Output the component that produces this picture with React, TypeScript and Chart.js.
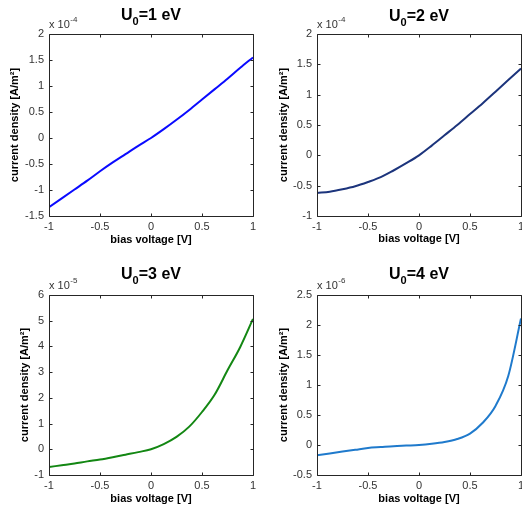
import React, { useEffect, useRef } from "react";
import { Chart, registerables } from "chart.js";

Chart.register(...registerables);

// bias voltage [V]
const voltage = [-1, -0.875, -0.75, -0.625, -0.5, -0.375, -0.25, -0.125, 0, 0.125, 0.25, 0.375, 0.5, 0.625, 0.75, 0.875, 1];
// current density, U0 = 1 eV  (×1e-4 A/m²)
const currentU1 = [-1.33, -1.16, -0.99, -0.82, -0.64, -0.47, -0.31, -0.15, 0.0, 0.17, 0.35, 0.54, 0.74, 0.94, 1.14, 1.35, 1.55];
// current density, U0 = 2 eV  (×1e-4 A/m²)
const currentU2 = [-0.62, -0.6, -0.56, -0.51, -0.44, -0.36, -0.25, -0.13, 0.0, 0.16, 0.33, 0.5, 0.68, 0.86, 1.05, 1.24, 1.43];
// current density, U0 = 3 eV  (×1e-5 A/m²)
const currentU3 = [-0.69, -0.62, -0.55, -0.47, -0.4, -0.31, -0.21, -0.11, 0.0, 0.2, 0.48, 0.88, 1.45, 2.13, 3.07, 3.98, 5.07];
// current density, U0 = 4 eV  (×1e-6 A/m²)
const currentU4 = [-0.17, -0.14, -0.11, -0.08, -0.05, -0.035, -0.02, -0.01, 0.0, 0.02, 0.05, 0.1, 0.19, 0.37, 0.65, 1.15, 2.11];

const xTicks = [-1, -0.5, 0, 0.5, 1];
const yTicksU1 = [-1.5, -1, -0.5, 0, 0.5, 1, 1.5, 2];
const yTicksU2 = [-1, -0.5, 0, 0.5, 1, 1.5, 2];
const yTicksU3 = [-1, 0, 1, 2, 3, 4, 5, 6];
const yTicksU4 = [-0.5, 0, 0.5, 1, 1.5, 2, 2.5];

const barrierHeights = ["1", "2", "3", "4"];
const exponents = ["-4", "-4", "-5", "-6"];
const xTitle = "bias voltage [V]";
const yTitle = "current density [A/m²]";

const FONT = "'Liberation Sans', Arial, Helvetica, sans-serif";
const AXIS_COLOR = "#262626";
const TEXT_COLOR = "#333333";

type Panel = {
  series: number[];
  yTicks: number[];
  color: string;
  u0: string;
  exp: string;
  pos: { left: number; top: number };
  area: { l: number; r: number; t: number; b: number };
  yTitlePad: number;
  xTitlePad: number;
  titleBase: number;
};

const W = 261;
const H = 255;

const panels: Panel[] = [
  {
    series: currentU1, yTicks: yTicksU1, color: "#0a0aff", u0: barrierHeights[0], exp: exponents[0],
    pos: { left: 0, top: 0 }, area: { l: 49, r: 253, t: 34, b: 216 }, yTitlePad: 8, xTitlePad: 8, titleBase: 20,
  },
  {
    series: currentU2, yTicks: yTicksU2, color: "#1c347c", u0: barrierHeights[1], exp: exponents[1],
    pos: { left: 261, top: 0 }, area: { l: 56, r: 260, t: 34, b: 216 }, yTitlePad: 16, xTitlePad: 9, titleBase: 21,
  },
  {
    series: currentU3, yTicks: yTicksU3, color: "#138713", u0: barrierHeights[2], exp: exponents[2],
    pos: { left: 0, top: 255 }, area: { l: 49, r: 253, t: 40, b: 220 }, yTitlePad: 18, xTitlePad: 4, titleBase: 24,
  },
  {
    series: currentU4, yTicks: yTicksU4, color: "#1f7acc", u0: barrierHeights[3], exp: exponents[3],
    pos: { left: 261, top: 255 }, area: { l: 56, r: 260, t: 40, b: 220 }, yTitlePad: 16, xTitlePad: 4, titleBase: 24,
  },
];

function fmt(v: number): string {
  return String(Math.round(v * 100) / 100);
}

function SubPlot({ p }: { p: Panel }) {
  const ref = useRef<HTMLCanvasElement | null>(null);

  useEffect(() => {
    const canvas = ref.current;
    if (!canvas) return;

    const decor = {
      id: "decor",
      afterDraw(chart: any) {
        const { ctx, chartArea: a } = chart;
        const l = Math.round(a.left) + 0.5;
        const t = Math.round(a.top) + 0.5;
        const r = Math.round(a.right) + 0.5;
        const b = Math.round(a.bottom) + 0.5;
        ctx.save();
        // frame
        ctx.strokeStyle = AXIS_COLOR;
        ctx.lineWidth = 1;
        ctx.beginPath();
        ctx.rect(l, t, r - l, b - t);
        ctx.stroke();
        // inward ticks
        const tl = 3;
        ctx.beginPath();
        chart.scales.x.ticks.forEach((tk: any) => {
          const x = Math.round(chart.scales.x.getPixelForValue(tk.value)) + 0.5;
          ctx.moveTo(x, b);
          ctx.lineTo(x, b - tl);
          ctx.moveTo(x, t);
          ctx.lineTo(x, t + tl);
        });
        chart.scales.y.ticks.forEach((tk: any) => {
          const y = Math.round(chart.scales.y.getPixelForValue(tk.value)) + 0.5;
          ctx.moveTo(l, y);
          ctx.lineTo(l + tl, y);
          ctx.moveTo(r, y);
          ctx.lineTo(r - tl, y);
        });
        ctx.stroke();

        // exponent label "x 10^exp"
        ctx.fillStyle = TEXT_COLOR;
        ctx.textBaseline = "alphabetic";
        ctx.textAlign = "left";
        ctx.font = `11px ${FONT}`;
        const ex = Math.round(a.left);
        const ey = Math.round(a.top) - 6;
        ctx.fillText("x 10", ex, ey);
        const w10 = ctx.measureText("x 10").width;
        ctx.font = `8px ${FONT}`;
        ctx.fillText(p.exp, ex + w10 + 0.5, ey - 6);

        // title U0=n eV
        ctx.fillStyle = "#000000";
        const big = `bold 16px ${FONT}`;
        const small = `bold 11px ${FONT}`;
        ctx.font = big;
        const wU = ctx.measureText("U").width;
        const rest = "=" + p.u0 + " eV";
        const wRest = ctx.measureText(rest).width;
        ctx.font = small;
        const w0 = ctx.measureText("0").width;
        const total = wU + w0 + wRest;
        const cx = (a.left + a.right) / 2;
        let x = cx - total / 2;
        ctx.font = big;
        ctx.fillText("U", x, p.titleBase);
        x += wU;
        ctx.font = small;
        ctx.fillText("0", x, p.titleBase + 5);
        x += w0;
        ctx.font = big;
        ctx.fillText(rest, x, p.titleBase);
        ctx.restore();
      },
    };

    const chart = new Chart(canvas, {
      type: "line",
      data: {
        labels: voltage,
        datasets: [
          {
            data: voltage.map((v, i) => ({ x: v, y: p.series[i] })),
            borderColor: p.color,
            backgroundColor: p.color,
            borderWidth: 2,
            pointRadius: 0,
            cubicInterpolationMode: "monotone",
            fill: false,
          },
        ],
      },
      options: {
        animation: false,
        responsive: false,
        devicePixelRatio: 1,
        layout: {
          padding: { left: 0, top: p.area.t, right: W - p.area.r, bottom: 0 },
        },
        plugins: {
          legend: { display: false },
          title: { display: false },
          tooltip: { enabled: false },
        },
        scales: {
          x: {
            type: "linear",
            min: -1,
            max: 1,
            grid: { display: false, drawTicks: false },
            border: { display: false },
            afterBuildTicks: (s: any) => {
              s.ticks = xTicks.map((v) => ({ value: v }));
            },
            afterFit: (s: any) => {
              s.height = H - p.area.b;
              s.paddingLeft = 0;
              s.paddingRight = 0;
            },
            ticks: {
              padding: 4,
              maxRotation: 0,
              autoSkip: false,
              color: TEXT_COLOR,
              font: { family: FONT, size: 11 },
              callback: (v: any) => fmt(Number(v)),
            },
            title: {
              display: true,
              text: xTitle,
              color: "#000000",
              font: { family: FONT, size: 11, weight: "bold" },
              padding: { top: 0, bottom: p.xTitlePad },
            },
          },
          y: {
            type: "linear",
            min: p.yTicks[0],
            max: p.yTicks[p.yTicks.length - 1],
            grid: { display: false, drawTicks: false },
            border: { display: false },
            afterBuildTicks: (s: any) => {
              s.ticks = p.yTicks.map((v) => ({ value: v }));
            },
            afterFit: (s: any) => {
              s.width = p.area.l;
              s.paddingTop = 0;
              s.paddingBottom = 0;
            },
            ticks: {
              padding: 5,
              autoSkip: false,
              color: TEXT_COLOR,
              font: { family: FONT, size: 11 },
              callback: (v: any) => fmt(Number(v)),
            },
            title: {
              display: true,
              text: yTitle,
              color: "#000000",
              font: { family: FONT, size: 11, weight: "bold" },
              padding: { top: p.yTitlePad, bottom: 0 },
            },
          },
        },
      },
      plugins: [decor],
    } as any);

    return () => chart.destroy();
  }, [p]);

  return (
    <canvas
      ref={ref}
      width={W}
      height={H}
      style={{ position: "absolute", left: p.pos.left, top: p.pos.top, width: W, height: H }}
    />
  );
}

export default function App() {
  return (
    <div style={{ position: "absolute", left: 0, top: 0, width: 522, height: 510, background: "#ffffff", overflow: "hidden" }}>
      {panels.map((p, i) => (
        <SubPlot key={i} p={p} />
      ))}
    </div>
  );
}
